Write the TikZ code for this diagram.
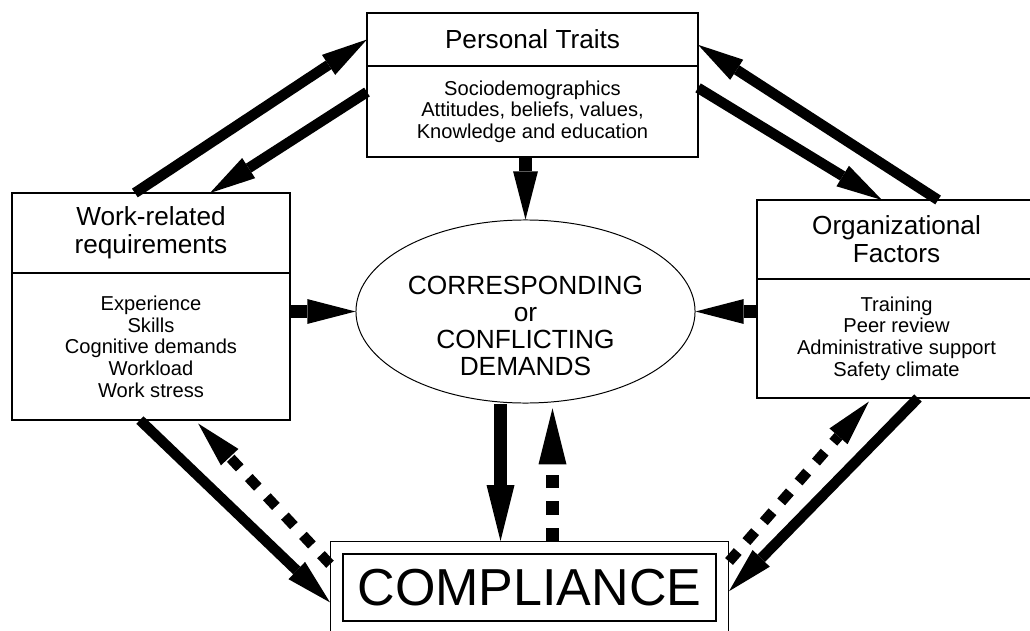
\documentclass[tikz,border=0pt]{standalone}
\usepackage{fontspec}
\setmainfont{Liberation Sans}
\usepackage{tikz}
\usetikzlibrary{calc,positioning,arrows.meta,shapes.geometric,fit}

\tikzset{
    box/.style={draw, line width=0.8pt, align=center, inner sep=0pt, outer sep=0pt},
    headfont/.style={font=\fontsize{18.6}{19.9}\selectfont},
    listfont/.style={font=\fontsize{14.3}{15.4}\selectfont},
    flow/.style={line width=0.26cm, -{Triangle[length=1.15cm, width=0.6cm, line width=0pt]}},
    flowshort/.style={line width=0.31cm, -{Triangle[length=1.2cm, width=0.62cm, line width=0pt]}},
    flowv/.style={line width=0.31cm, -{Triangle[length=1.4cm, width=0.7cm, line width=0pt]}},
    dashedflow/.style={dash pattern=on 0.33cm off 0.33cm},
}

\begin{document}
\begin{tikzpicture}[x=0.025cm, y=-0.025cm]
    \useasboundingbox (0,0) rectangle (1030,630);

    \node [box, headfont, minimum width=8.275cm, minimum height=1.325cm] (traits) at (532.5,39.5) {Personal Traits};
    \node [box, listfont, below=0pt of traits, minimum width=8.275cm, minimum height=2.275cm] (traitsbody) {Sociodemographics\\Attitudes, beliefs, values,\\Knowledge and education};

    \node [box, headfont, minimum width=6.95cm, minimum height=2cm] (workreq) at (151,233) {Work-related\\requirements};
    \node [box, listfont, below=0pt of workreq, minimum width=6.95cm, minimum height=3.675cm] (workreqbody) {Experience\\Skills\\Cognitive demands\\Workload\\Work stress};

    \node [box, headfont, minimum width=6.975cm, minimum height=1.975cm] (orgfac) at (896.5,239.5) {Organizational\\Factors};
    \node [box, listfont, below=0pt of orgfac, minimum width=6.975cm, minimum height=2.975cm] (orgfacbody) {Training\\Peer review\\Administrative support\\Safety climate};

    \node [draw, ellipse, line width=0.7pt, inner sep=0pt, minimum width=8.475cm, minimum height=4.575cm] (demands) at (525.5,311.5) {};
    \node [align=center, font=\fontsize{18.7}{19.1}\selectfont] (demandstext) at (525.5,326) {CORRESPONDING\\or\\CONFLICTING\\DEMANDS};

    \node [box, font=\fontsize{37}{40}\selectfont, minimum width=9.325cm, minimum height=1.675cm] (compliance) at (529.5,587.5) {COMPLIANCE};
    \node [draw, line width=0.8pt, inner sep=0.31cm, fit=(compliance)] (complianceframe) {};

    \coordinate (outlet) at ($(demands.south)+(-25,0)$);
    \coordinate (inlet) at ($(demands.south)+(27,0)$);

    % top triangle
    \draw[flow] ($(workreq.north west)!0.442!(workreq.north east)$) -- (traits.west);
    \draw[flow] ($(traitsbody.north west)!0.286!(traitsbody.south west)$) -- ($(workreq.north west)!0.712!(workreq.north east)$);
    \draw[flow] ($(traitsbody.north east)!0.24!(traitsbody.south east)$) -- ($(orgfac.north west)!0.448!(orgfac.north east)$);
    \draw[flow] ($(orgfac.north west)!0.649!(orgfac.north east)$) -- ($(traits.north east)!0.6!(traits.south east)$);

    % into the demands
    \draw[flowshort] (traitsbody.south -| demands.north) -- (demands.north);
    \draw[flowshort] (workreqbody.east |- demands.west) -- (demands.west);
    \draw[flowshort] (orgfacbody.west |- demands.east) -- (demands.east);

    % compliance
    \draw[flowv] (outlet) -- (outlet |- complianceframe.north);
    \draw[flowv, dashedflow, shorten >=0.12cm] (inlet |- complianceframe.north) -- (inlet);
    \draw[flow] ($(workreqbody.south west)!0.46!(workreqbody.south east)$) -- ($(complianceframe.north west)!0.66!(complianceframe.south west)$);
    \draw[flow, dashedflow, shorten >=0.12cm] ($(complianceframe.north west)!0.25!(complianceframe.south west)$) -- ($(workreqbody.south west)!0.658!(workreqbody.south east)$);
    \draw[flow] ($(orgfacbody.south west)!0.577!(orgfacbody.south east)$) -- ($(complianceframe.north east)!0.54!(complianceframe.south east)$);
    \draw[flow, dashedflow, shorten >=0.12cm] ($(complianceframe.north east)!0.22!(complianceframe.south east)$) -- ($(orgfacbody.south west)!0.412!(orgfacbody.south east)$);

\end{tikzpicture}
\end{document}
